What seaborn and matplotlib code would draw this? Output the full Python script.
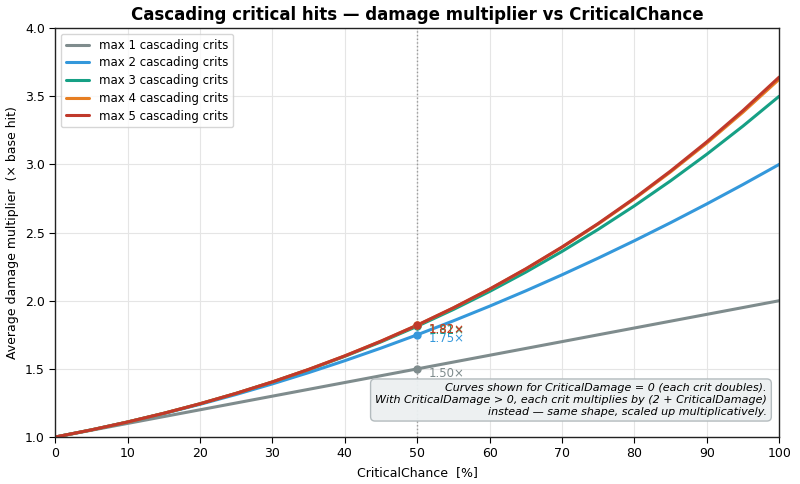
import matplotlib
matplotlib.use("Agg")
import matplotlib.pyplot as plt
import seaborn as sns
import pandas as pd

crit_chance = [0, 5, 10, 15, 20, 25, 30, 35, 40, 45, 50, 55, 60, 65, 70, 75, 80, 85, 90, 95, 100]
max1 = [1.000, 1.050, 1.100, 1.150, 1.200, 1.250, 1.300, 1.350, 1.400, 1.450, 1.500, 1.550, 1.600, 1.650, 1.700, 1.750, 1.800, 1.850, 1.900, 1.950, 2.000]
max2 = [1.000, 1.0525, 1.110, 1.1725, 1.240, 1.3125, 1.390, 1.4725, 1.560, 1.6525, 1.750, 1.8525, 1.960, 2.0725, 2.190, 2.3125, 2.440, 2.5725, 2.710, 2.8525, 3.000]
max3 = [1.000, 1.0526, 1.1105, 1.1742, 1.244, 1.3203, 1.4035, 1.4939, 1.592, 1.6981, 1.8125, 1.9357, 2.068, 2.2098, 2.3615, 2.5234, 2.696, 2.8796, 3.0745, 3.2812, 3.500]
max4 = [1.000, 1.0526, 1.1105, 1.1743, 1.2442, 1.3208, 1.4045, 1.4958, 1.5952, 1.7032, 1.8203, 1.9471, 2.0842, 2.2321, 2.3915, 2.5630, 2.7472, 2.9449, 3.1565, 3.3830, 3.625]
max5 = [1.000, 1.0526, 1.1105, 1.1743, 1.2442, 1.3208, 1.4045, 1.4959, 1.5954, 1.7035, 1.8208, 1.9479, 2.0854, 2.2339, 2.3941, 2.5667, 2.7523, 2.9518, 3.1657, 3.3951, 3.6406]
series_names = ["max 1 cascading crits", "max 2 cascading crits", "max 3 cascading crits",
                "max 4 cascading crits", "max 5 cascading crits"]
colors = ["#7f8c8d", "#3498db", "#16a085", "#e67e22", "#c0392b"]
marker_x = 50
marker_labels = ["1.50×", "1.75×", "1.81×", "1.82×", "1.82×"]

all_series = [max1, max2, max3, max4, max5]
rows = []
for name, vals in zip(series_names, all_series):
    for x, v in zip(crit_chance, vals):
        rows.append({"CriticalChance": x, "value": v, "series": name})
df = pd.DataFrame(rows)

sns.set_style("ticks")
plt.rcParams['font.family'] = ['DejaVu Sans']
plt.rcParams.update({"text.color": "black", "axes.labelcolor": "black",
                     "xtick.color": "black", "ytick.color": "black",
                     "axes.edgecolor": "#222222"})

fig, ax = plt.subplots(figsize=(8, 4.84), dpi=100)
fig.subplots_adjust(left=0.069, right=0.974, top=0.942, bottom=0.097)

sns.lineplot(data=df, x="CriticalChance", y="value", hue="series",
             palette=dict(zip(series_names, colors)), linewidth=2.2, ax=ax)

ax.axvline(marker_x, color="#999999", linestyle=":", linewidth=1, zorder=1)

idx = crit_chance.index(marker_x)
for vals, c, lab in zip(all_series, colors, marker_labels):
    y = vals[idx]
    ax.plot([marker_x], [y], "o", color=c, markersize=5, zorder=5)
    ax.annotate(lab, (marker_x, y), xytext=(8, -3), textcoords="offset points",
                color=c, fontsize=8.5, va="center", ha="left")

ax.set_xlim(0, 100)
ax.set_ylim(1.0, 4.0)
ax.set_xticks(range(0, 101, 10))
ax.set_yticks([1.0, 1.5, 2.0, 2.5, 3.0, 3.5, 4.0])
ax.tick_params(labelsize=9, colors="black", length=4)
ax.grid(True, color="#e5e5e5", linewidth=0.8)
ax.set_axisbelow(True)
for s in ax.spines.values():
    s.set_visible(True)
    s.set_color("#222222")
    s.set_linewidth(1)

ax.set_xlabel("CriticalChance  [%]", fontsize=9, color="black")
ax.set_ylabel("Average damage multiplier  (× base hit)", fontsize=9, color="black")
ax.set_title("Cascading critical hits — damage multiplier vs CriticalChance",
             fontsize=12, fontweight="bold", color="black")

leg = ax.legend(loc="upper left", fontsize=8.5, frameon=True, labelspacing=0.4)
leg.set_title(None)

ax.text(0.983, 0.05,
        "Curves shown for CriticalDamage = 0 (each crit doubles).\n"
        "With CriticalDamage > 0, each crit multiplies by (2 + CriticalDamage)\n"
        "instead — same shape, scaled up multiplicatively.",
        transform=ax.transAxes, ha="right", va="bottom", fontsize=8, style="italic",
        color="black",
        bbox=dict(boxstyle="round,pad=0.4", facecolor="#ecf0f1", edgecolor="#b0b8bb", alpha=0.95))

fig.savefig("out.png", dpi=100)
